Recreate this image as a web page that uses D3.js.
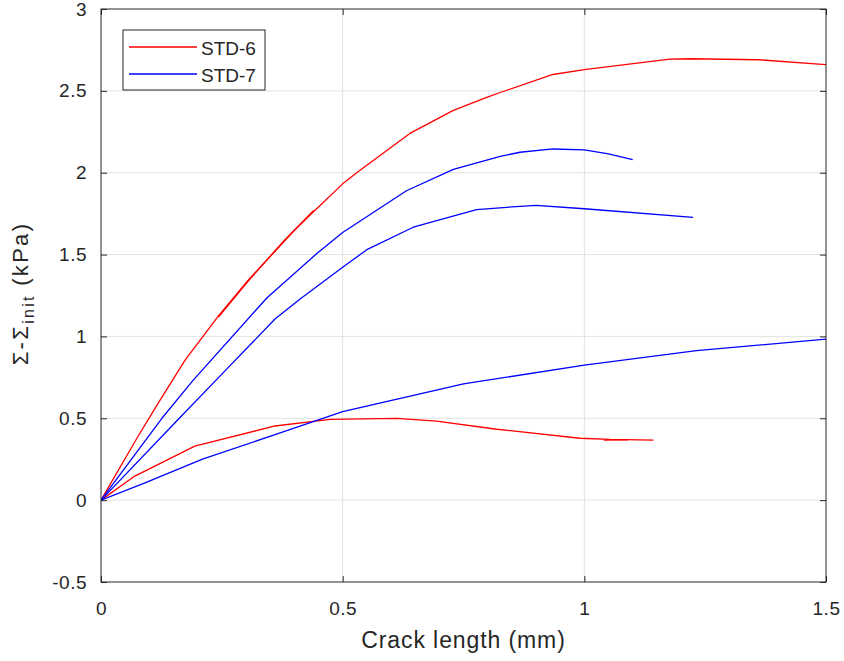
<!DOCTYPE html>
<html><head><meta charset="utf-8">
<script src="https://d3js.org/d3.v7.min.js"></script>
<style>body{margin:0;background:#fff}svg{display:block}text{font-family:"Liberation Sans",Arial,sans-serif;fill:#262626}</style>
</head><body>
<script>
const xTicks = [0, 0.5, 1, 1.5];
const yTicks = [-0.5, 0, 0.5, 1, 1.5, 2, 2.5, 3];
const seriesNames = ["STD-6", "STD-7"];
const seriesColors = ["#ff0000", "#0000ff"];
// STD-6 curves (red)
const std6a = [[0,0],[0.077,0.392],[0.119,0.596],[0.174,0.855],[0.243,1.126],[0.305,1.345],[0.329,1.422],[0.398,1.64],[0.432,1.74],[0.5,1.932],[0.529,2.0],[0.639,2.24],[0.729,2.381],[0.798,2.46],[0.826,2.49],[0.935,2.60],[1.0,2.63],[1.177,2.694],[1.22,2.696],[1.36,2.69],[1.5,2.66]];
const std6b = [[0,0],[0.07,0.147],[0.194,0.33],[0.36,0.453],[0.474,0.493],[0.612,0.50],[0.694,0.483],[0.819,0.433],[0.991,0.378],[1.053,0.371],[1.143,0.367]];
const std6c = [[0.243,1.118],[0.305,1.34],[0.38,1.59],[0.44,1.77]];
const std6d = [[1.04,0.366],[1.09,0.368]];
// STD-7 curves (blue)
const std7a = [[0,0],[0.126,0.50],[0.19,0.73],[0.343,1.235],[0.446,1.505],[0.5,1.635],[0.632,1.89],[0.729,2.02],[0.826,2.10],[0.867,2.125],[0.935,2.145],[1.0,2.14],[1.05,2.115],[1.10,2.08]];
const std7b = [[0,0],[0.16,0.494],[0.26,0.80],[0.36,1.106],[0.412,1.228],[0.5,1.422],[0.55,1.53],[0.646,1.667],[0.777,1.775],[0.867,1.795],[0.90,1.80],[1.0,1.78],[1.225,1.727]];
const std7c = [[0,0],[0.091,0.106],[0.21,0.25],[0.36,0.40],[0.5,0.54],[0.75,0.71],[1.0,0.825],[1.232,0.913],[1.5,0.984]];
const curves = [
  {s:0, d:std6a},{s:0, d:std6b},{s:0, d:std6c},{s:0, d:std6d},
  {s:1, d:std7a},{s:1, d:std7b},{s:1, d:std7c}
];

const W=844,H=661, L=101,R=826,T=9,B=582;
const svg=d3.select("body").append("svg").attr("width",W).attr("height",H);
const x=d3.scaleLinear().domain([0,1.5]).range([L,R]);
const y=d3.scaleLinear().domain([-0.5,3]).range([B,T]);

// grid
svg.append("g").selectAll("line").data(xTicks.slice(1,-1)).join("line")
  .attr("x1",d=>x(d)).attr("x2",d=>x(d)).attr("y1",T).attr("y2",B)
  .attr("stroke","#e3e3e3").attr("stroke-width",1);
svg.append("g").selectAll("line").data(yTicks.slice(1,-1)).join("line")
  .attr("y1",d=>y(d)).attr("y2",d=>y(d)).attr("x1",L).attr("x2",R)
  .attr("stroke","#e3e3e3").attr("stroke-width",1);

// curves
const line=d3.line().x(d=>x(d[0])).y(d=>y(d[1])).curve(d3.curveLinear);
svg.append("clipPath").attr("id","c").append("rect").attr("x",L).attr("y",T).attr("width",R-L).attr("height",B-T);
svg.append("g").attr("clip-path","url(#c)").selectAll("path").data(curves).join("path")
  .attr("d",d=>line(d.d)).attr("fill","none").attr("stroke",d=>seriesColors[d.s]).attr("stroke-width",1.3)
  .attr("stroke-linejoin","round");

// axes
const ax=svg.append("g").attr("stroke","#262626").attr("stroke-width",1);
ax.append("rect").attr("x",L).attr("y",T).attr("width",R-L).attr("height",B-T).attr("fill","none");
const tl=6;
const fmt=d=>String(d);
const xAxisB=d3.axisBottom(x).tickValues(xTicks).tickSize(-tl).tickFormat(fmt).tickPadding(20);
const xAxisT=d3.axisTop(x).tickValues(xTicks).tickSize(-tl).tickFormat("");
const yAxisL=d3.axisLeft(y).tickValues(yTicks).tickSize(-tl).tickFormat(fmt).tickPadding(14);
const yAxisR=d3.axisRight(y).tickValues(yTicks).tickSize(-tl).tickFormat("");
function style(g){g.select(".domain").remove();g.selectAll("line").attr("stroke","#262626");g.selectAll("text").attr("fill","#262626").style("font-size","19px").style("letter-spacing","0.5px").style("font-family","'Liberation Sans',Arial,sans-serif");}
svg.append("g").attr("transform",`translate(0,${B})`).call(xAxisB).call(style);
svg.append("g").attr("transform",`translate(0,${T})`).call(xAxisT).call(style);
svg.append("g").attr("transform",`translate(${L},0)`).call(yAxisL).call(style);
svg.append("g").attr("transform",`translate(${R},0)`).call(yAxisR).call(style);

// labels
svg.append("text").attr("x",(L+R)/2).attr("y",648).attr("text-anchor","middle").style("font-size","23px").style("letter-spacing","0.9px").text("Crack length (mm)");
const yl=svg.append("text").attr("transform",`translate(28,293.5) rotate(-90)`).attr("text-anchor","middle").style("font-size","22px").style("letter-spacing","2.3px");
yl.append("tspan").text("Σ-Σ");
yl.append("tspan").attr("dy",6).style("font-size","16px").text("init");
yl.append("tspan").attr("dy",-6).text(" (kPa)");

// legend
const lg=svg.append("g");
lg.append("rect").attr("x",123).attr("y",30).attr("width",142).attr("height",60).attr("fill","#fff").attr("stroke","#262626").attr("stroke-width",1);
seriesNames.forEach((n,i)=>{
  const yy=47+i*27;
  lg.append("line").attr("x1",129).attr("x2",197).attr("y1",yy).attr("y2",yy).attr("stroke",seriesColors[i]).attr("stroke-width",1.3);
  lg.append("text").attr("x",201).attr("y",yy+7.5).style("font-size","19px").text(n);
});
</script>
</body></html>
